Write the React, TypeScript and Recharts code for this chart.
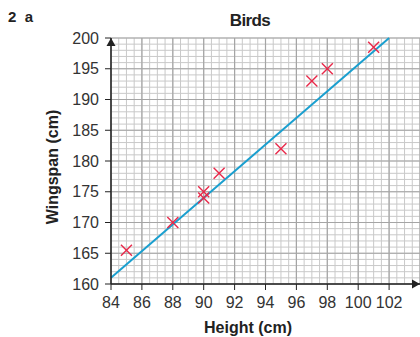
import { ScatterChart, Scatter, XAxis, YAxis, CartesianGrid, ReferenceLine, ReferenceDot } from "recharts";

// Bird heights vs wingspans.
const heights = [85, 88, 90, 90, 91, 95, 97, 98, 101];
const wingspans = [165.5, 170, 175, 174, 178, 182, 193, 195, 198.5];

// line of best fit, drawn by eye
const fitX = [84, 102];
const fitY = [161, 200];

const xTicks = [84, 86, 88, 90, 92, 94, 96, 98, 100, 102];
const yTicks = [160, 165, 170, 175, 180, 185, 190, 195, 200];

const X_MIN = 84;
const X_MAX = 104;
const Y_MIN = 160;
const Y_MAX = 200;

// graph paper: minor lines every 0.5 cm across, 1 cm up
const xMinor: number[] = [];
for (let v = X_MIN; v <= X_MAX + 0.001; v += 0.5) xMinor.push(v);
const yMinor: number[] = [];
for (let v = Y_MIN; v <= Y_MAX; v += 1) yMinor.push(v);
const xMajor = xMinor.filter((v) => v % 2 === 0);
const yMajor = yMinor.filter((v) => v % 5 === 0);

const points = heights.map((h, i) => ({ h, w: wingspans[i] }));

const FONT = "'Liberation Sans', Arial, sans-serif";
const INK = "#222";
const RED = "#e8294a";
const BLUE = "#1a9fcf";

function Cross(props: any) {
  const { cx, cy } = props;
  const r = 5.5;
  return (
    <g stroke={RED} strokeWidth={1.4}>
      <line x1={cx - r} y1={cy - r} x2={cx + r} y2={cy + r} />
      <line x1={cx - r} y1={cy + r} x2={cx + r} y2={cy - r} />
    </g>
  );
}

const ArrowUp = (props: any) => {
  const { cx, cy } = props;
  return <path d={`M${cx},${cy} L${cx - 4.5},${cy + 8} L${cx + 4.5},${cy + 8} Z`} fill={INK} />;
};

const ArrowRight = (props: any) => {
  const { cx, cy } = props;
  return <path d={`M${cx},${cy} L${cx - 8},${cy - 4.5} L${cx - 8},${cy + 4.5} Z`} fill={INK} />;
};

const tickStyle = { fill: "#333", fontSize: 16, fontFamily: FONT };

export default function App() {
  return (
    <div style={{ position: "absolute", left: 0, top: 0, width: 420, height: 337, background: "#fff", fontFamily: FONT }}>
      <div style={{ position: "absolute", left: 8, top: 8, fontSize: 15, fontWeight: 700, color: INK, lineHeight: "17px" }}>
        2&nbsp;&nbsp;a
      </div>
      <div
        style={{
          position: "absolute",
          left: 250,
          top: 12,
          transform: "translateX(-50%)",
          fontSize: 17,
          fontWeight: 700,
          letterSpacing: -0.6,
          color: INK,
          lineHeight: "17px",
        }}
      >
        Birds
      </div>
      <div
        style={{
          position: "absolute",
          left: 53,
          top: 167,
          transform: "translate(-50%, -50%) rotate(-90deg)",
          fontSize: 16,
          fontWeight: 700,
          color: INK,
          whiteSpace: "nowrap",
        }}
      >
        Wingspan (cm)
      </div>
      <div
        style={{
          position: "absolute",
          left: 248,
          top: 328,
          transform: "translate(-50%, -50%)",
          fontSize: 16,
          fontWeight: 700,
          color: INK,
          whiteSpace: "nowrap",
        }}
      >
        Height (cm)
      </div>
      <ScatterChart width={420} height={337} margin={{ top: 38, right: 0, bottom: 0, left: 0 }}>
        <CartesianGrid stroke="#c9c9c9" strokeWidth={1} horizontalValues={yMinor} verticalValues={xMinor} />
        <CartesianGrid stroke="#a5a5a5" strokeWidth={1.2} horizontalValues={yMajor} verticalValues={xMajor} />
        <XAxis
          type="number"
          dataKey="h"
          domain={[X_MIN, X_MAX]}
          ticks={xTicks}
          interval={0}
          height={53}
          tick={tickStyle}
          tickSize={6}
          tickMargin={7}
          tickLine={{ stroke: INK }}
          axisLine={{ stroke: INK, strokeWidth: 1.5 }}
          allowDataOverflow
        />
        <YAxis
          type="number"
          dataKey="w"
          domain={[Y_MIN, Y_MAX]}
          ticks={yTicks}
          interval={0}
          width={111}
          tick={tickStyle}
          tickSize={6}
          tickMargin={6}
          tickLine={{ stroke: INK }}
          axisLine={{ stroke: INK, strokeWidth: 1.5 }}
          allowDataOverflow
        />
        <ReferenceLine
          segment={[
            { x: fitX[0], y: fitY[0] },
            { x: fitX[1], y: fitY[1] },
          ]}
          stroke={BLUE}
          strokeWidth={2}
          ifOverflow="visible"
        />
        <Scatter data={points} shape={<Cross />} isAnimationActive={false} />
        <ReferenceDot x={X_MIN} y={Y_MAX} shape={<ArrowUp />} ifOverflow="visible" />
        <ReferenceDot x={X_MAX} y={Y_MIN} shape={<ArrowRight />} ifOverflow="visible" />
      </ScatterChart>
    </div>
  );
}
